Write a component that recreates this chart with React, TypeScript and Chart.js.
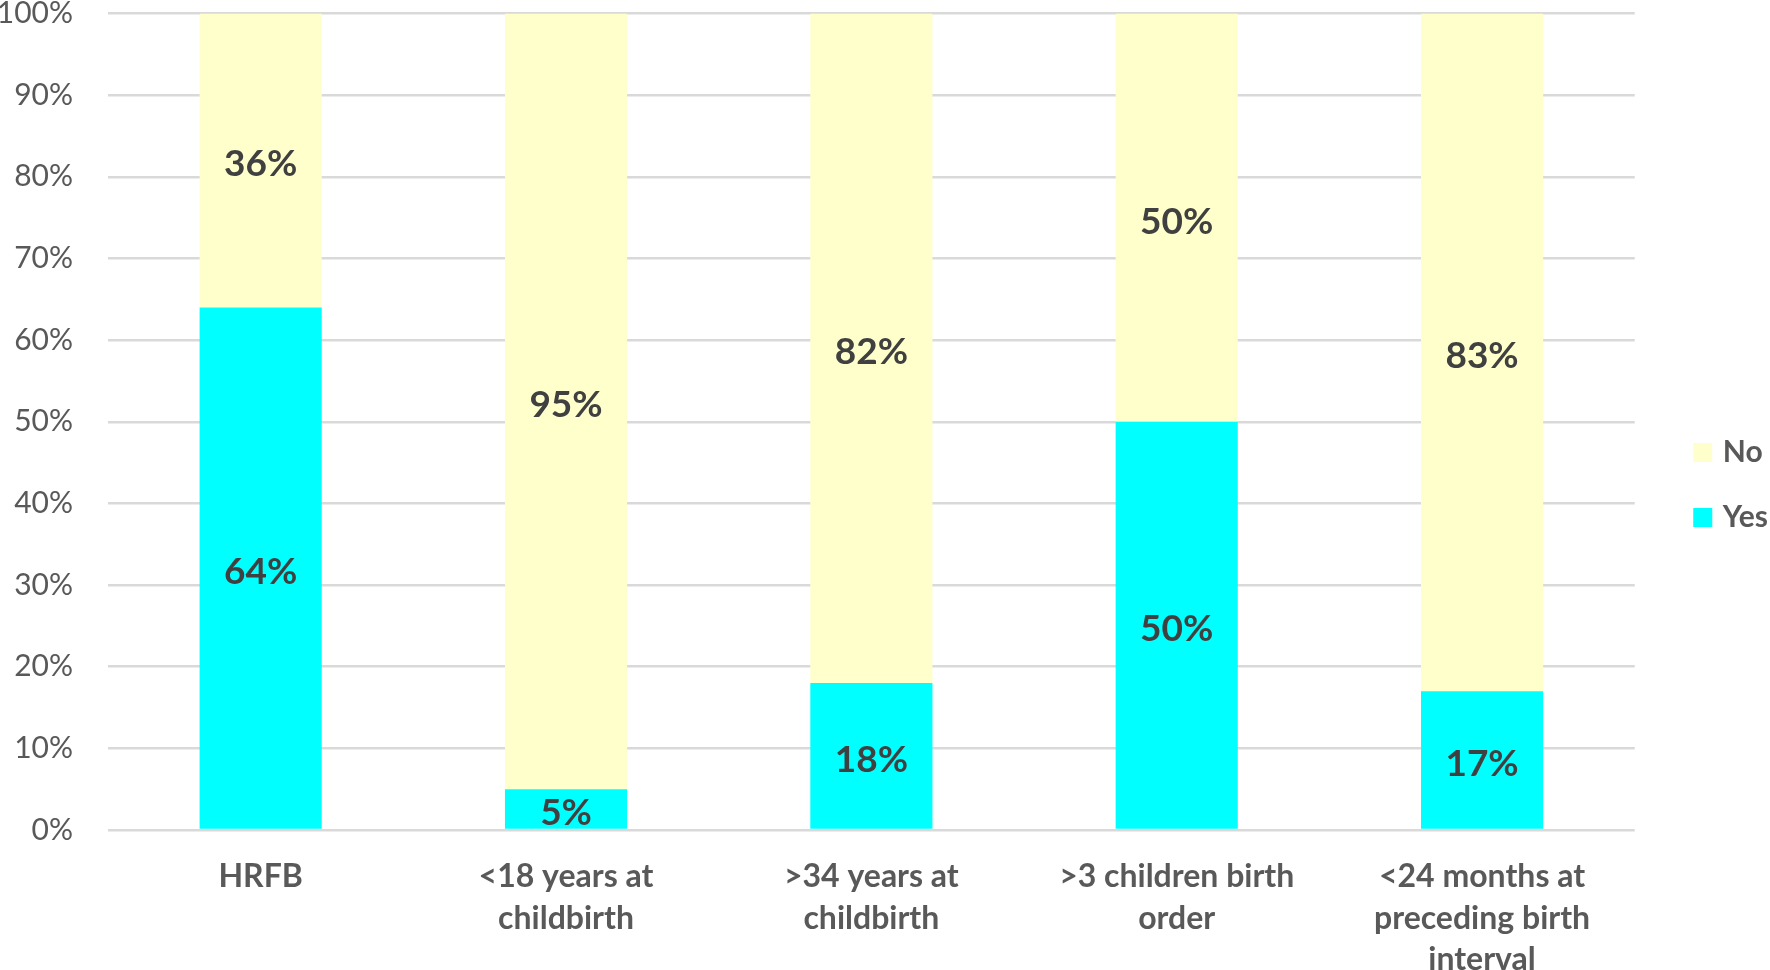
import React, { useEffect, useRef } from "react";
import { Chart, registerables } from "chart.js";

Chart.register(...registerables);

const categories: string[][] = [
  ["HRFB"],
  ["<18 years at", "childbirth"],
  [">34 years at", "childbirth"],
  [">3 children birth", "order"],
  ["<24 months at", "preceding birth", "interval"],
];
const yesValues = [64, 5, 18, 50, 17];
const noValues = [36, 95, 82, 50, 83];
const yTickStep = 10;
const yMin = 0;
const yMax = 100;

const CANVAS_W = 1778;
const CANVAS_H = 970;

const valueLabels = {
  id: "valueLabels",
  afterDatasetsDraw(chart: any) {
    const ctx = chart.ctx;
    ctx.save();
    ctx.font = "bold 37px Lato";
    ctx.fillStyle = "#404040";
    ctx.textAlign = "center";
    ctx.textBaseline = "middle";
    chart.data.datasets.forEach((ds: any, i: number) => {
      const meta = chart.getDatasetMeta(i);
      meta.data.forEach((bar: any, j: number) => {
        const { x, y, base } = bar.getProps(["x", "y", "base"], true);
        ctx.fillText(ds.data[j] + "%", x, (y + base) / 2 + 4);
      });
    });
    ctx.restore();
  },
};

export default function App() {
  const ref = useRef<HTMLCanvasElement | null>(null);
  useEffect(() => {
    document.body.style.margin = "0";
    if (!ref.current) return;
    const chart = new Chart(ref.current, {
      type: "bar",
      data: {
        labels: categories,
        datasets: [
          {
            label: "Yes",
            data: yesValues,
            backgroundColor: "#00FFFF",
            borderWidth: 0,
            pointStyle: "rect",
            barPercentage: 0.4,
            categoryPercentage: 1.0,
          },
          {
            label: "No",
            data: noValues,
            backgroundColor: "#FFFFCC",
            borderWidth: 0,
            pointStyle: "rect",
            barPercentage: 0.4,
            categoryPercentage: 1.0,
          },
        ],
      },
      options: {
        responsive: false,
        animation: false,
        layout: { padding: 0 },
        plugins: {
          legend: {
            position: "right",
            reverse: true,
            labels: {
              usePointStyle: true,
              pointStyle: "rect",
              boxWidth: 10,
              boxHeight: 19,
              padding: 35,
              color: "#595959",
              font: { family: "Lato", weight: "bold", size: 30 },
            },
          },
          tooltip: { enabled: false },
          title: { display: false },
        },
        scales: {
          x: {
            stacked: true,
            grid: { display: false },
            border: { display: false },
            ticks: {
              color: "#595959",
              padding: 18,
              maxRotation: 0,
              autoSkip: false,
              font: { family: "Lato", weight: "bold", size: 32, lineHeight: 1.3 },
            },
            afterFit: (s: any) => {
              s.height = 140;
            },
          },
          y: {
            stacked: true,
            min: yMin,
            max: yMax,
            grid: {
              color: "#D9D9D9",
              lineWidth: 2.5,
              drawTicks: true,
              tickLength: 35,
              tickColor: "rgba(0,0,0,0)",
            },
            border: { display: false },
            ticks: {
              stepSize: yTickStep,
              padding: 0,
              color: "#595959",
              font: { family: "Lato", size: 30, lineHeight: 0.9 },
              callback: (v: any) => v + "%",
            },
            afterFit: (s: any) => {
              s.width = 108;
            },
          },
          y2: {
            type: "linear",
            position: "right",
            display: true,
            grid: { display: false, drawTicks: false },
            border: { display: false },
            ticks: { display: false },
            afterFit: (s: any) => {
              s.width = 28;
            },
          },
        },
      },
      plugins: [valueLabels],
    } as any);
    return () => chart.destroy();
  }, []);

  return (
    <div
      style={{
        position: "absolute",
        left: 0,
        top: 0,
        width: 1770,
        height: 970,
        overflow: "hidden",
        background: "#ffffff",
      }}
    >
      <canvas
        ref={ref}
        width={CANVAS_W}
        height={CANVAS_H}
        style={{ width: CANVAS_W, height: CANVAS_H, display: "block" }}
      />
    </div>
  );
}
